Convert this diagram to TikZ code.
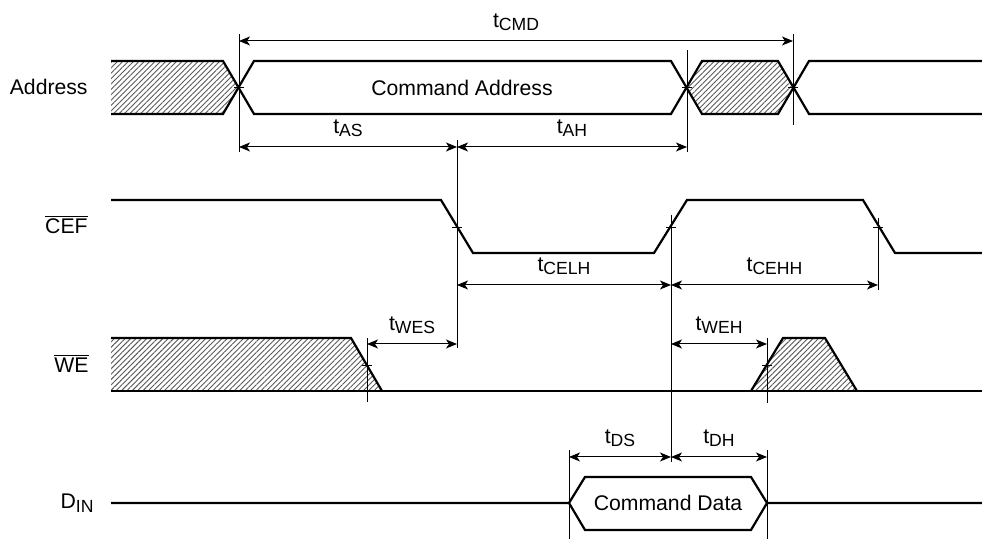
\documentclass[tikz,border=0pt]{standalone}
\usepackage{fontspec}
\setmainfont{Liberation Sans}
\usetikzlibrary{arrows.meta,patterns.meta}

\newcommand{\tsub}[1]{t\lower1.6pt\hbox{\fontsize{8.8}{10}\selectfont #1}}

\tikzset{
  sig/.style={line width=1.1pt,line join=miter},
  hatch/.style={pattern={Lines[angle=45,distance=1.9pt,line width=0.45pt]},pattern color=black!65},
  guide/.style={line width=0.5pt},
  dim/.style={line width=0.5pt,{Stealth[length=5.5pt,width=4.5pt,inset=1.5pt]}-{Stealth[length=5.5pt,width=4.5pt,inset=1.5pt]}},
  tick/.style={line width=0.4pt},
}

\begin{document}
\begin{tikzpicture}[x=0.5pt,y=-0.5pt,inner sep=0pt,font=\fontsize{10.6}{12.7}\selectfont]
\useasboundingbox (0,0) rectangle (982,539);

% signal names
\node[anchor=base east] (addr) at (88,95) {Address};
\node[anchor=base east] (cef) at (88,234) {$\overline{\mbox{CEF}}$};
\node[anchor=base east] (we) at (89,373) {$\overline{\mbox{WE}}$};
\node[anchor=base east] (din) at (94,509) {D\lower1.6pt\hbox{\fontsize{8.8}{10}\selectfont IN}};

% Address
\fill[hatch] (111,61) -- (223,61) -- (238.5,87.5) -- (223,114) -- (111,114) -- cycle;
\fill[hatch] (686.5,87.5) -- (702,61) -- (778,61) -- (793.5,87.5) -- (778,114) -- (702,114) -- cycle;
\draw[sig] (111,61) -- (223,61) -- (254,114) -- (671,114) -- (702,61) -- (778,61) -- (809,114) -- (982,114);
\draw[sig] (111,114) -- (223,114) -- (254,61) -- (671,61) -- (702,114) -- (778,114) -- (809,61) -- (982,61);
\node (cmdaddr) at (462,88) {Command Address};

% CEF
\draw[sig] (111,200) -- (441,200) -- (473,253) -- (654,253) -- (687,200) -- (863,200) -- (895,253) -- (982,253);

% WE
\fill[hatch] (111,338) -- (351,338) -- (382,391) -- (111,391) -- cycle;
\fill[hatch] (751,391) -- (783,338) -- (825,338) -- (857,391) -- cycle;
\draw[sig] (111,338) -- (351,338) -- (382,391);
\draw[sig] (751,391) -- (783,338) -- (825,338) -- (857,391);
\draw[sig] (111,391) -- (982,391);

% DIN
\draw[sig] (111,503) -- (569,503) -- (585,477) -- (751,477) -- (767,503) -- (982,503);
\draw[sig] (569,503) -- (585,530) -- (751,530) -- (767,503);
\node (cmddata) at (668,503) {Command Data};

% guides
\draw[guide] (239,34) -- (239,152);
\draw[guide] (793,34) -- (793,125);
\draw[guide] (687,50) -- (687,152);
\draw[guide] (457,140) -- (457,348);
\draw[guide] (878,218) -- (878,290);
\draw[guide] (671,215) -- (671,462);
\draw[guide] (367,338) -- (367,402);
\draw[guide] (767,338) -- (767,403);
\draw[guide] (569,450) -- (569,539);
\draw[guide] (767,450) -- (767,539);

% crossing ticks
\foreach \x/\y in {239/87.5,687/87.5,793/87.5,457/227,671/227,878/227,367/365,767/365}
  \draw[tick] (\x-5,\y) -- (\x+5,\y);

% timing arrows
\coordinate (cmdL) at (239,41);  \coordinate (cmdR) at (793,41);
\coordinate (asL) at (239,147);  \coordinate (asR) at (457,147);
\coordinate (ahR) at (687,147);
\coordinate (celL) at (457,285); \coordinate (celR) at (671,285);
\coordinate (cehR) at (878,285);
\coordinate (wesL) at (367,344); \coordinate (wesR) at (457,344);
\coordinate (wehL) at (671,344); \coordinate (wehR) at (767,344);
\coordinate (dsL) at (569,457);  \coordinate (dsR) at (671,457);
\coordinate (dhR) at (767,457);

\draw[dim] (cmdL) -- (cmdR) node[midway,above=5pt] (tcmd) {\tsub{CMD}};
\draw[dim] (asL) -- (asR) node[midway,above=5pt] (tas) {\tsub{AS}};
\draw[dim] (asR) -- (ahR) node[midway,above=5pt] (tah) {\tsub{AH}};
\draw[dim] (celL) -- (celR) node[midway,above=5pt] (tcelh) {\tsub{CELH}};
\draw[dim] (celR) -- (cehR) node[midway,above=5pt] (tcehh) {\tsub{CEHH}};
\draw[dim] (wesL) -- (wesR) node[midway,above=5pt] (twes) {\tsub{WES}};
\draw[dim] (wehL) -- (wehR) node[midway,above=5pt] (tweh) {\tsub{WEH}};
\draw[dim] (dsL) -- (dsR) node[midway,above=5pt] (tds) {\tsub{DS}};
\draw[dim] (dsR) -- (dhR) node[midway,above=5pt] (tdh) {\tsub{DH}};
\end{tikzpicture}
\end{document}
